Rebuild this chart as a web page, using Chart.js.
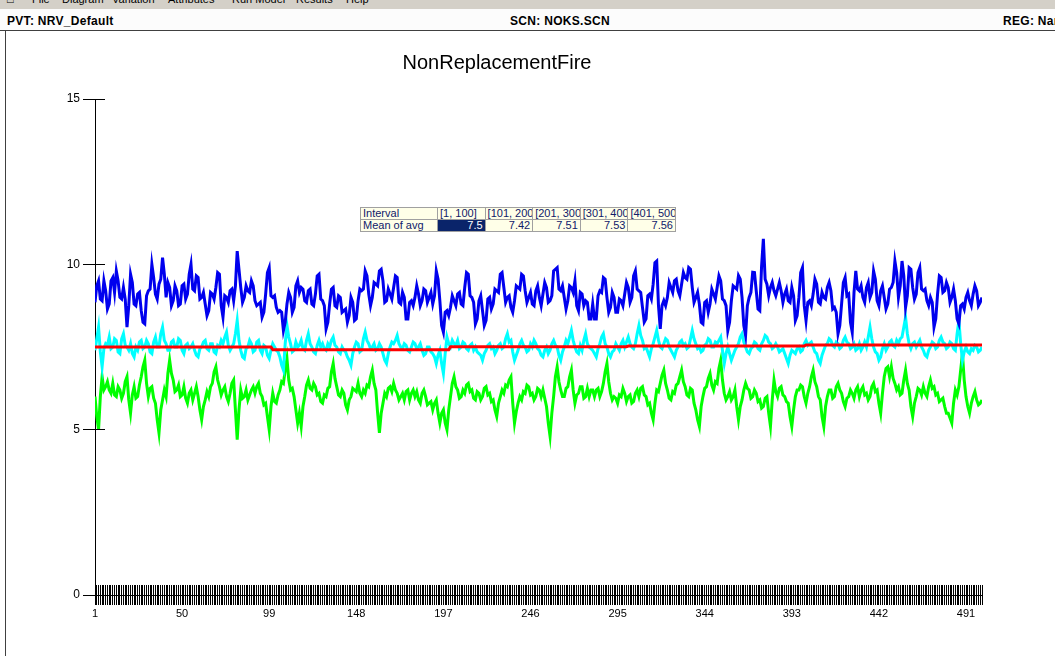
<!DOCTYPE html>
<html>
<head>
<meta charset="utf-8">
<script src="https://cdn.jsdelivr.net/npm/chart.js@4.4.1/dist/chart.umd.min.js"></script>
<style>
  body { margin: 0; width: 1055px; height: 656px; background: #fff; position: relative; overflow: hidden;
         font-family: "Liberation Sans", Arial, sans-serif; }
  #menu { position: absolute; left: 0; top: 0; width: 1055px; height: 9px; background: #d4d0c8; overflow: hidden; }
  #menu span { position: absolute; top: -7px; font-size: 11px; color: #000; }
  #bar { position: absolute; left: 0; top: 9px; width: 1055px; height: 21px; background: #fcfcfc;
         border-bottom: 1px solid #404040; font-size: 12px; font-weight: bold; }
  #bar span { position: absolute; top: 5px; white-space: nowrap; letter-spacing: 0.3px; }
  #edge { position: absolute; left: 5px; top: 31px; width: 1px; height: 625px; background: #404040; }
  #wrap { position: absolute; left: 0; top: 32px; width: 994px; height: 624px; }
  #stats { position: absolute; left: 360px; top: 207px; width: 316px; border-collapse: collapse; font-size: 11px;
           color: #10206a; background: #ffffe8; border: 1px solid #606060; table-layout: fixed; }
  #stats td { border: 1px solid #a0a0a0; height: 11px; padding: 0 2px; overflow: hidden; white-space: nowrap;
              line-height: 11px; }
  #stats td.v { text-align: right; }
  #stats td.sel { background: #0a246a; color: #fff; }
</style>
</head>
<body>
<div id="menu">
  <span style="left:7px">&#9633;</span>
  <span style="left:32px">File</span>
  <span style="left:62px">Diagram</span>
  <span style="left:112px">Variation</span>
  <span style="left:168px">Attributes</span>
  <span style="left:232px">Run Model</span>
  <span style="left:296px">Results</span>
  <span style="left:346px">Help</span>
</div>
<div id="bar">
  <span style="left:7px">PVT: NRV_Default</span>
  <span style="left:510px">SCN: NOKS.SCN</span>
  <span style="left:1003px">REG: Name</span>
</div>
<div id="edge"></div>
<div id="wrap"><canvas id="chart" width="994" height="624"></canvas></div>
<table id="stats"></table>

<script>
// one value per time step 1..500
const maxSeries = [
  8.85, 9.35, 9.5, 8.95, 8.9, 9.5, 9.2, 8.65, 8.8, 9.5, 9.6, 9.15, 9.8, 9.5, 9.0, 8.95, 9.3, 8.95, 8.1, 8.75,
  9.7, 9.45, 8.8, 8.75, 9.1, 9.15, 8.6, 8.25, 8.2, 9.05, 9.2, 9.25, 10.0, 9.6, 9.1, 8.95, 9.4, 9.55, 10.2, 9.7,
  9.0, 9.45, 9.3, 8.75, 8.9, 9.35, 9.2, 8.75, 8.8, 9.35, 9.4, 8.95, 9.1, 9.7, 10.0, 9.25, 9.2, 9.65, 9.6, 8.95,
  9.0, 9.15, 8.8, 8.45, 8.6, 9.15, 9.1, 8.95, 9.3, 9.75, 9.7, 8.75, 8.4, 9.05, 9.0, 8.85, 9.2, 9.25, 8.9, 9.35,
  10.4, 9.85, 9.3, 8.85, 9.0, 9.35, 9.2, 9.15, 9.5, 9.35, 8.9, 8.75, 8.8, 8.85, 8.4, 8.55, 9.1, 9.75, 9.9, 9.05,
  9.0, 9.05, 8.7, 8.55, 8.6, 8.55, 8.0, 8.25, 8.8, 9.15, 9.0, 8.55, 8.7, 9.35, 9.5, 9.15, 9.3, 9.25, 8.9, 8.85,
  9.2, 9.25, 8.8, 8.75, 9.1, 9.65, 9.7, 8.95, 8.9, 8.75, 8.05, 8.25, 8.8, 9.25, 9.3, 8.75, 8.7, 9.05, 9.0, 8.55,
  8.6, 8.65, 8.25, 8.45, 9.0, 8.85, 8.3, 8.35, 8.9, 9.25, 9.2, 9.25, 9.8, 9.65, 9.1, 8.75, 9.0, 9.45, 9.4, 9.35,
  9.8, 9.85, 9.5, 8.85, 8.9, 9.25, 9.1, 8.95, 9.3, 9.65, 9.6, 8.85, 8.8, 9.15, 9.0, 8.35, 8.35, 8.85, 8.9, 8.75,
  9.0, 9.35, 9.1, 8.75, 8.9, 9.25, 9.2, 8.85, 9.0, 9.15, 8.8, 9.05, 9.8, 9.55, 8.9, 8.15, 7.95, 8.55, 8.6, 8.45,
  8.7, 9.05, 8.9, 8.75, 9.1, 9.15, 8.8, 8.75, 9.3, 9.75, 9.7, 9.05, 9.0, 8.85, 8.2, 8.35, 8.9, 9.05, 8.6, 8.15,
  8.3, 8.95, 9.0, 8.65, 8.8, 9.25, 9.2, 9.15, 9.7, 9.75, 9.3, 8.85, 9.0, 9.05, 8.7, 8.55, 8.9, 9.35, 9.3, 9.25,
  9.7, 9.65, 9.2, 8.85, 9.0, 9.15, 8.8, 8.75, 9.2, 9.35, 9.0, 8.75, 9.1, 9.45, 9.3, 8.85, 8.9, 9.05, 9.8, 9.85,
  9.9, 9.25, 9.2, 9.35, 9.0, 8.65, 8.9, 9.35, 9.3, 9.15, 9.5, 8.75, 8.6, 9.15, 9.1, 8.75, 8.9, 8.85, 8.35, 8.35,
  8.8, 8.35, 8.35, 9.05, 9.2, 9.15, 9.6, 9.55, 9.0, 8.55, 8.7, 9.15, 9.0, 8.55, 8.55, 8.95, 8.9, 8.75, 9.1, 9.45,
  9.3, 8.85, 9.0, 9.65, 9.8, 9.25, 9.2, 9.15, 8.7, 8.25, 8.35, 9.05, 9.1, 8.95, 9.4, 10.05, 10.1, 8.75, 8.05, 8.75,
  8.9, 8.75, 9.0, 9.45, 9.3, 9.15, 9.5, 9.55, 9.2, 9.05, 9.4, 9.75, 9.6, 9.55, 9.9, 9.85, 9.3, 8.85, 9.0, 9.15,
  8.8, 8.25, 8.2, 8.85, 8.9, 8.55, 8.8, 9.25, 9.1, 8.95, 9.3, 9.65, 9.5, 8.95, 8.9, 8.75, 8.0, 8.25, 8.9, 9.35,
  9.3, 9.25, 9.66, 9.55, 9.0, 8.15, 7.85, 8.75, 9.0, 9.15, 9.76, 9.75, 9.2, 8.65, 8.6, 9.95, 10.77, 9.55, 9.4, 9.05,
  9.3, 9.45, 9.2, 9.05, 9.25, 9.45, 9.2, 8.85, 9.1, 9.25, 8.9, 8.85, 9.3, 9.05, 8.3, 8.45, 9.0, 9.75, 9.9, 8.75,
  8.3, 8.85, 8.9, 8.75, 9.1, 9.55, 9.4, 8.85, 8.8, 9.15, 9.0, 8.95, 9.3, 9.45, 9.2, 8.65, 8.7, 8.55, 7.9, 8.15,
  8.8, 9.45, 9.6, 9.05, 9.1, 8.25, 7.95, 9.15, 9.8, 9.25, 9.2, 9.35, 9.0, 8.85, 9.3, 9.45, 9.0, 9.15, 9.8, 9.55,
  8.9, 8.75, 9.2, 9.35, 9.0, 8.65, 8.8, 9.25, 9.3, 9.45, 10.1, 9.75, 9.0, 9.35, 10.1, 9.65, 8.7, 9.05, 9.9, 9.85,
  9.3, 8.95, 9.1, 9.75, 9.9, 9.25, 9.2, 9.25, 8.9, 8.75, 9.0, 8.85, 8.1, 8.35, 9.1, 9.65, 9.6, 9.15, 9.2, 9.45,
  9.3, 8.85, 9.0, 9.25, 8.9, 8.35, 8.2, 8.75, 8.8, 8.65, 9.0, 9.15, 8.9, 8.75, 9.1, 9.35, 9.2, 8.75, 8.85, 9.0
];
const avgSeries = [
  7.4, 7.75, 8.1, 7.35, 6.9, 7.45, 7.6, 7.55, 7.8, 7.45, 7.5, 7.75, 7.7, 7.35, 7.3, 7.75, 7.9, 7.55, 7.5, 7.4,
  7.6, 7.3, 7.2, 7.5, 7.4, 7.65, 7.7, 7.45, 7.5, 7.7, 7.6, 7.35, 7.3, 7.65, 7.8, 7.5, 7.5, 7.9, 8.1, 7.7,
  7.6, 7.4, 7.4, 7.65, 7.7, 7.5, 7.5, 7.75, 7.7, 7.4, 7.3, 7.55, 7.6, 7.45, 7.5, 7.6, 7.4, 7.25, 7.2, 7.45,
  7.5, 7.65, 7.7, 7.45, 7.4, 7.6, 7.6, 7.35, 7.3, 7.55, 7.5, 7.7, 7.6, 7.8, 7.95, 7.55, 7.4, 7.5, 7.6, 7.9,
  8.3, 7.7, 7.4, 7.2, 7.15, 7.45, 7.5, 7.7, 7.6, 7.35, 7.4, 7.65, 7.7, 7.4, 7.3, 7.55, 7.5, 7.25, 7.15, 7.4,
  7.6, 7.5, 7.4, 7.35, 7.2, 6.95, 6.8, 7.6, 8.15, 7.8, 7.6, 7.35, 7.4, 7.65, 7.5, 7.55, 7.7, 7.45, 7.4, 7.7,
  7.9, 7.6, 7.5, 7.35, 7.3, 7.55, 7.7, 7.5, 7.6, 7.45, 7.4, 7.6, 7.5, 7.7, 7.8, 7.55, 7.5, 7.35, 7.3, 7.5,
  7.4, 7.35, 7.2, 7.1, 6.95, 7.3, 7.5, 7.65, 7.6, 7.35, 7.4, 7.75, 7.95, 7.7, 7.6, 7.45, 7.5, 7.6, 7.4, 7.45,
  7.6, 7.5, 7.3, 7.1, 7.0, 7.3, 7.5, 7.65, 7.6, 7.7, 7.85, 7.6, 7.5, 7.45, 7.6, 7.55, 7.4, 7.35, 7.5, 7.65,
  7.6, 7.45, 7.5, 7.6, 7.4, 7.25, 7.3, 7.5, 7.5, 7.35, 7.3, 7.2, 7.0, 7.25, 7.4, 7.0, 6.7, 7.3, 7.8, 7.6,
  7.5, 7.7, 7.6, 7.55, 7.7, 7.45, 7.5, 7.65, 7.6, 7.45, 7.4, 7.55, 7.6, 7.4, 7.5, 7.35, 7.3, 7.25, 7.1, 7.3,
  7.4, 7.55, 7.6, 7.45, 7.5, 7.3, 7.4, 7.55, 7.6, 7.45, 7.5, 7.75, 7.9, 7.65, 7.7, 7.35, 7.1, 7.25, 7.4, 7.6,
  7.7, 7.55, 7.5, 7.35, 7.4, 7.6, 7.5, 7.7, 7.6, 7.45, 7.4, 7.25, 7.2, 7.4, 7.5, 7.3, 7.4, 7.6, 7.7, 7.55,
  7.5, 7.25, 7.1, 7.35, 7.5, 7.7, 7.6, 7.8, 8.0, 7.7, 7.5, 7.35, 7.3, 7.55, 7.4, 7.7, 7.9, 7.6, 7.5, 7.45,
  7.4, 7.3, 7.2, 7.45, 7.6, 7.8, 7.9, 7.6, 7.5, 7.3, 7.2, 7.35, 7.4, 7.6, 7.5, 7.4, 7.6, 7.7, 7.5, 7.65,
  7.8, 7.6, 7.5, 7.45, 7.6, 7.9, 8.15, 7.85, 7.7, 7.45, 7.5, 7.35, 7.2, 7.45, 7.6, 7.8, 8.0, 7.7, 7.5, 7.45,
  7.6, 7.75, 7.7, 7.5, 7.4, 7.3, 7.2, 7.4, 7.5, 7.65, 7.7, 7.55, 7.6, 7.45, 7.5, 7.75, 8.0, 7.75, 7.6, 7.45,
  7.5, 7.35, 7.4, 7.55, 7.6, 7.75, 7.7, 7.5, 7.5, 7.65, 7.6, 7.7, 7.8, 7.4, 7.0, 7.3, 7.5, 7.3, 7.1, 7.25,
  7.4, 7.5, 7.6, 7.8, 7.9, 7.65, 7.5, 7.35, 7.3, 7.45, 7.5, 7.65, 7.6, 7.45, 7.4, 7.6, 7.7, 7.85, 7.8, 7.65,
  7.6, 7.45, 7.5, 7.6, 7.5, 7.35, 7.4, 7.45, 7.3, 7.15, 7.0, 7.25, 7.4, 7.35, 7.3, 7.45, 7.5, 7.35, 7.4, 7.6,
  7.7, 7.55, 7.6, 7.65, 7.5, 7.35, 7.3, 7.1, 7.0, 7.25, 7.4, 7.55, 7.6, 7.75, 7.7, 7.55, 7.5, 7.65, 7.6, 7.45,
  7.5, 7.7, 7.8, 7.65, 7.6, 7.45, 7.5, 7.6, 7.4, 7.45, 7.6, 7.4, 7.5, 7.65, 7.5, 7.8, 8.1, 7.75, 7.5, 7.35,
  7.3, 7.1, 7.2, 7.45, 7.6, 7.4, 7.5, 7.65, 7.7, 7.55, 7.5, 7.7, 7.6, 7.75, 7.8, 8.1, 8.4, 7.9, 7.6, 7.45,
  7.6, 7.65, 7.5, 7.6, 7.7, 7.5, 7.4, 7.25, 7.2, 7.4, 7.5, 7.65, 7.6, 7.45, 7.5, 7.7, 7.8, 7.65, 7.6, 7.45,
  7.5, 7.65, 7.6, 7.45, 7.4, 7.9, 8.3, 7.6, 7.1, 7.35, 7.5, 7.35, 7.3, 7.45, 7.4, 7.55, 7.5, 7.35, 7.4, 7.5
];
const minSeries = [
  6.0, 5.4, 5.0, 6.0, 6.6, 6.2, 6.3, 6.45, 6.2, 6.1, 6.4, 6.05, 6.0, 6.3, 6.2, 5.95, 6.1, 6.45, 6.6, 5.9,
  5.5, 6.05, 6.3, 5.95, 6.0, 6.35, 6.6, 6.9, 7.1, 6.4, 6.0, 6.25, 6.3, 5.95, 5.8, 5.3, 4.9, 5.6, 5.9, 6.2,
  6.0, 6.7, 7.1, 6.7, 6.5, 6.15, 6.2, 6.35, 6.0, 6.05, 6.3, 5.95, 5.8, 6.1, 6.2, 5.9, 6.1, 6.3, 6.0, 5.6,
  5.3, 5.7, 5.9, 6.15, 6.0, 6.3, 6.4, 6.75, 6.9, 6.5, 6.3, 6.05, 6.2, 6.3, 6.0, 5.85, 6.1, 6.4, 6.5, 5.6,
  4.7, 5.6, 6.2, 5.95, 6.0, 6.2, 5.9, 6.05, 6.2, 6.3, 6.1, 6.3, 6.4, 6.1, 6.0, 5.75, 5.8, 5.4, 5.0, 5.7,
  6.1, 5.85, 5.8, 6.05, 6.2, 6.45, 6.4, 6.8, 7.15, 6.5, 6.2, 6.25, 6.0, 5.6, 5.2, 5.5, 5.1, 5.7, 6.0, 6.35,
  6.5, 6.25, 6.2, 6.4, 6.3, 6.05, 6.1, 5.85, 5.8, 6.05, 6.0, 6.25, 6.3, 6.75, 7.0, 6.55, 6.3, 6.05, 6.0, 6.2,
  6.1, 5.75, 5.6, 5.9, 6.0, 6.25, 6.2, 6.15, 6.4, 6.1, 6.0, 6.2, 6.1, 6.35, 6.3, 6.6, 6.8, 6.4, 6.2, 5.5,
  4.9, 5.5, 5.8, 6.1, 6.0, 6.25, 6.3, 6.15, 6.4, 6.2, 6.1, 5.9, 6.0, 6.1, 5.9, 6.15, 6.2, 5.9, 6.1, 6.2,
  6.0, 6.15, 5.9, 5.8, 6.1, 6.2, 6.0, 5.75, 5.8, 5.85, 5.6, 5.8, 5.9, 5.5, 5.2, 5.5, 5.6, 5.2, 5.0, 5.6,
  6.0, 6.4, 6.6, 6.3, 6.2, 5.95, 6.0, 6.2, 6.1, 6.35, 6.4, 6.15, 6.2, 5.95, 5.9, 6.15, 6.1, 5.9, 6.0, 6.25,
  6.3, 6.05, 6.1, 5.85, 5.9, 5.6, 5.4, 5.8, 6.0, 6.2, 6.1, 6.35, 6.3, 6.5, 6.6, 5.8, 5.2, 5.55, 5.8, 6.0,
  5.9, 6.15, 6.1, 6.35, 6.3, 6.05, 6.1, 5.9, 6.0, 6.25, 6.2, 6.0, 6.2, 5.95, 5.7, 5.2, 4.8, 5.5, 6.0, 6.6,
  6.9, 6.45, 6.2, 6.0, 6.0, 6.25, 6.3, 6.6, 6.8, 6.2, 5.8, 6.05, 6.1, 6.3, 6.3, 5.95, 6.0, 6.25, 6.0, 6.2,
  6.2, 6.0, 6.2, 6.25, 6.0, 6.15, 6.4, 6.75, 7.0, 6.45, 6.1, 5.9, 6.0, 5.95, 5.8, 6.05, 6.0, 6.25, 6.1, 5.85,
  6.0, 6.05, 5.8, 5.85, 6.1, 6.2, 6.0, 6.25, 6.3, 6.05, 6.0, 5.75, 5.8, 5.5, 5.3, 5.8, 6.2, 6.15, 6.4, 6.65,
  6.8, 6.4, 6.2, 5.95, 5.9, 6.15, 6.1, 6.35, 6.4, 6.6, 6.8, 6.45, 6.3, 6.05, 6.0, 6.25, 6.2, 5.8, 5.6, 5.3,
  5.1, 5.7, 6.0, 6.25, 6.3, 6.55, 6.7, 6.35, 6.2, 6.45, 6.4, 6.85, 7.1, 6.5, 6.1, 5.9, 6.0, 6.15, 5.9, 6.0,
  6.2, 5.7, 5.3, 5.7, 5.9, 6.2, 6.4, 6.25, 6.2, 5.95, 6.0, 6.2, 6.1, 5.85, 5.9, 5.65, 5.7, 5.95, 6.0, 5.5,
  5.1, 5.9, 6.5, 6.15, 6.0, 6.25, 6.3, 6.05, 6.0, 5.85, 5.8, 5.4, 5.1, 5.6, 6.0, 6.2, 6.2, 6.35, 6.3, 6.0,
  5.8, 6.1, 6.3, 6.6, 6.8, 6.45, 6.3, 6.0, 5.9, 5.4, 5.1, 5.7, 6.0, 6.2, 6.2, 5.95, 6.0, 6.3, 6.4, 6.2,
  6.1, 5.85, 5.7, 5.95, 6.0, 6.2, 6.1, 5.95, 6.2, 6.3, 6.0, 6.2, 6.3, 6.05, 6.1, 5.9, 6.0, 6.3, 6.4, 6.15,
  6.2, 5.8, 5.5, 6.1, 6.6, 6.85, 6.9, 6.6, 6.9, 6.55, 6.4, 6.2, 6.3, 6.05, 6.1, 6.5, 6.8, 6.4, 6.2, 5.7,
  5.4, 5.8, 6.0, 6.25, 6.2, 6.05, 6.3, 6.1, 6.0, 6.3, 6.5, 6.25, 6.3, 6.05, 6.1, 5.85, 5.9, 5.95, 5.7, 5.5,
  5.5, 5.35, 5.2, 5.8, 6.2, 6.05, 6.3, 6.8, 7.3, 6.5, 6.0, 5.7, 5.5, 5.8, 6.0, 6.15, 5.9, 5.75, 5.8, 5.9
];

const intervalLabels = ["[1, 100]", "[101, 200]", "[201, 300]", "[301, 400]", "[401, 500]"];
const intervalStart = [1, 101, 201, 301, 401];
const intervalEnd = [100, 200, 300, 400, 500];
const meanOfAvg = [7.5, 7.42, 7.51, 7.53, 7.56];

const xLabels = [1, 50, 99, 148, 197, 246, 295, 344, 393, 442, 491];
const yTicks = [0, 5, 10, 15];

// stats table over the plot
const table = document.getElementById("stats");
table.innerHTML =
  "<tr><td style='width:72px'>Interval</td>" +
  intervalLabels.map(l => "<td>" + l + "</td>").join("") + "</tr>" +
  "<tr><td>Mean of avg</td>" +
  meanOfAvg.map((m, i) => "<td class='v" + (i === 0 ? " sel" : "") + "'>" + m + "</td>").join("") + "</tr>";

const toPoints = arr => arr.map((v, i) => ({ x: i + 1, y: v }));
const meanPoints = meanOfAvg.flatMap((m, i) => [{ x: intervalStart[i], y: m }, { x: intervalEnd[i], y: m }]);

// tick marks that cross the axes (Chart.js only draws the outer half)
const crossTicks = {
  id: "crossTicks",
  afterDraw(chart) {
    const { ctx, scales: { x, y } } = chart;
    const align = p => Math.round(p - 0.5) + 0.5;
    const y0 = y.getPixelForValue(0);
    ctx.save();
    ctx.strokeStyle = "#000";
    ctx.lineWidth = 1;
    ctx.beginPath();
    x.ticks.forEach(t => {
      const px = align(x.getPixelForValue(t.value));
      ctx.moveTo(px, y0 - 10);
      ctx.lineTo(px, y0);
    });
    y.ticks.forEach(t => {
      const py = align(y.getPixelForValue(t.value));
      ctx.moveTo(x.left, py);
      ctx.lineTo(x.left + 10, py);
    });
    ctx.stroke();
    ctx.restore();
  }
};

const line = (data, color) => ({
  data, borderColor: color, borderWidth: 3, pointRadius: 0, tension: 0, fill: false
});

new Chart(document.getElementById("chart").getContext("2d"), {
  type: "line",
  data: {
    datasets: [
      line(meanPoints, "#ff0000"),
      line(toPoints(maxSeries), "#0000ee"),
      line(toPoints(avgSeries), "#00ffff"),
      line(toPoints(minSeries), "#00ff00")
    ]
  },
  options: {
    responsive: false,
    animation: false,
    events: [],
    layout: { padding: { left: 12, right: 12, top: 0, bottom: 0 } },
    plugins: {
      legend: { display: false },
      tooltip: { enabled: false },
      title: {
        display: true,
        text: "NonReplacementFire",
        color: "#000",
        font: { family: "'Liberation Sans', Arial, sans-serif", size: 20, weight: "normal" },
        padding: { top: 19, bottom: 24 }
      }
    },
    scales: {
      x: {
        type: "linear",
        min: 1,
        max: 500,
        afterFit: s => { s.height = 61; },
        ticks: {
          stepSize: 1,
          autoSkip: false,
          maxRotation: 0,
          padding: 2,
          color: "#000",
          font: { family: "'Liberation Sans', Arial, sans-serif", size: 11 },
          callback: v => (xLabels.includes(v) ? String(v) : "")
        },
        grid: { drawOnChartArea: false, color: "#000", tickLength: 10 },
        border: { color: "#000" }
      },
      y: {
        min: 0,
        max: 15,
        afterFit: s => { s.width = 83; },
        afterBuildTicks: s => { s.ticks = yTicks.map(v => ({ value: v })); },
        ticks: {
          padding: 3,
          color: "#000",
          font: { family: "'Liberation Sans', Arial, sans-serif", size: 12 }
        },
        grid: { drawOnChartArea: false, color: "#000", tickLength: 12 },
        border: { color: "#000" }
      }
    }
  },
  plugins: [crossTicks]
});
</script>
</body>
</html>
